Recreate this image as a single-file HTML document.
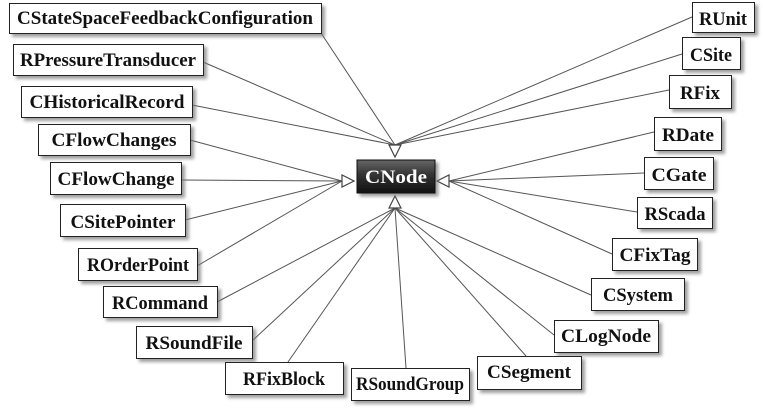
<!DOCTYPE html>
<html><head><style>
body{margin:0;width:763px;height:412px;background:#fff;overflow:hidden}
svg{position:absolute;left:0;top:0}
text{font-family:"Liberation Serif",serif;font-weight:bold;font-size:19px;fill:#111}
</style></head><body>
<svg width="763" height="412" viewBox="0 0 763 412">
<defs>
<filter id="sh" x="-10%" y="-20%" width="130%" height="160%"><feDropShadow dx="3" dy="3" stdDeviation="1.5" flood-color="#777" flood-opacity="0.7"/></filter>
<linearGradient id="g" x1="0" y1="0" x2="0" y2="1"><stop offset="0" stop-color="#666"/><stop offset="0.45" stop-color="#333"/><stop offset="1" stop-color="#111"/></linearGradient>
</defs>
<g stroke="#555" stroke-width="1" fill="none">
<line x1="321" y1="33" x2="395" y2="145"/>
<line x1="203" y1="62" x2="395" y2="145"/>
<line x1="192" y1="105" x2="395" y2="145"/>
<line x1="692" y1="17" x2="395" y2="145"/>
<line x1="682" y1="54" x2="395" y2="145"/>
<line x1="669" y1="90" x2="395" y2="145"/>
<line x1="190" y1="140" x2="342" y2="181"/>
<line x1="181" y1="180" x2="342" y2="181"/>
<line x1="185" y1="220" x2="342" y2="181"/>
<line x1="197" y1="266" x2="342" y2="181"/>
<line x1="654" y1="132" x2="449" y2="181"/>
<line x1="644" y1="173" x2="449" y2="181"/>
<line x1="637" y1="212" x2="449" y2="181"/>
<line x1="612" y1="254" x2="449" y2="181"/>
<line x1="217" y1="302" x2="395" y2="208"/>
<line x1="252" y1="341" x2="395" y2="208"/>
<line x1="288" y1="362" x2="395" y2="208"/>
<line x1="406" y1="368" x2="395" y2="208"/>
<line x1="526" y1="356" x2="395" y2="208"/>
<line x1="554" y1="335" x2="395" y2="208"/>
<line x1="591" y1="295" x2="395" y2="208"/>
</g>
<g stroke="#444" stroke-width="1.2" fill="#fff">
<polygon points="389,145 401,145 395,157"/>
<polygon points="342,175 342,187 354,181"/>
<polygon points="449,175 449,187 437,181"/>
<polygon points="389,208 401,208 395,196"/>
</g>
<g fill="#fff" stroke="#222" stroke-width="1" filter="url(#sh)">
<rect x="9.5" y="3.5" width="312" height="30"/>
<rect x="13.5" y="44.5" width="190" height="31"/>
<rect x="21.5" y="86.5" width="171" height="31"/>
<rect x="38.5" y="124.5" width="152" height="31"/>
<rect x="50.5" y="162.5" width="131" height="32"/>
<rect x="60.5" y="204.5" width="125" height="32"/>
<rect x="78.5" y="248.5" width="119" height="32"/>
<rect x="103.5" y="286.5" width="114" height="31"/>
<rect x="136.5" y="326.5" width="116" height="32"/>
<rect x="225.5" y="362.5" width="118" height="32"/>
<rect x="351.5" y="368.5" width="118" height="32"/>
<rect x="477.5" y="356.5" width="104" height="33"/>
<rect x="554.5" y="320.5" width="104" height="32"/>
<rect x="591.5" y="278.5" width="93" height="32"/>
<rect x="612.5" y="238.5" width="85" height="32"/>
<rect x="637.5" y="197.5" width="75" height="31"/>
<rect x="644.5" y="157.5" width="69" height="32"/>
<rect x="654.5" y="117.5" width="67" height="33"/>
<rect x="669.5" y="75.5" width="62" height="33"/>
<rect x="682.5" y="37.5" width="58" height="32"/>
<rect x="692.5" y="2.5" width="62" height="30"/>
<rect x="357" y="160" width="78" height="33" fill="url(#g)" stroke="#111"/>
</g>
<g text-anchor="middle" lengthAdjust="spacingAndGlyphs">
<text x="165" y="24" textLength="296" lengthAdjust="spacingAndGlyphs">CStateSpaceFeedbackConfiguration</text>
<text x="108" y="66" textLength="176" lengthAdjust="spacingAndGlyphs">RPressureTransducer</text>
<text x="107" y="108" textLength="155" lengthAdjust="spacingAndGlyphs">CHistoricalRecord</text>
<text x="114" y="146" textLength="125" lengthAdjust="spacingAndGlyphs">CFlowChanges</text>
<text x="116" y="185" textLength="117" lengthAdjust="spacingAndGlyphs">CFlowChange</text>
<text x="123" y="228" textLength="105" lengthAdjust="spacingAndGlyphs">CSitePointer</text>
<text x="138" y="271" textLength="102" lengthAdjust="spacingAndGlyphs">ROrderPoint</text>
<text x="160" y="309" textLength="96" lengthAdjust="spacingAndGlyphs">RCommand</text>
<text x="194" y="349" textLength="97" lengthAdjust="spacingAndGlyphs">RSoundFile</text>
<text x="284" y="385" textLength="82" lengthAdjust="spacingAndGlyphs">RFixBlock</text>
<text x="410" y="390" textLength="108" lengthAdjust="spacingAndGlyphs">RSoundGroup</text>
<text x="529" y="378" textLength="84" lengthAdjust="spacingAndGlyphs">CSegment</text>
<text x="606" y="342" textLength="90" lengthAdjust="spacingAndGlyphs">CLogNode</text>
<text x="638" y="301" textLength="70" lengthAdjust="spacingAndGlyphs">CSystem</text>
<text x="655" y="261" textLength="71" lengthAdjust="spacingAndGlyphs">CFixTag</text>
<text x="675" y="220" textLength="61" lengthAdjust="spacingAndGlyphs">RScada</text>
<text x="679" y="181" textLength="55" lengthAdjust="spacingAndGlyphs">CGate</text>
<text x="688" y="141" textLength="52" lengthAdjust="spacingAndGlyphs">RDate</text>
<text x="700" y="99" textLength="40" lengthAdjust="spacingAndGlyphs">RFix</text>
<text x="711" y="61" textLength="42" lengthAdjust="spacingAndGlyphs">CSite</text>
<text x="723" y="25" textLength="48" lengthAdjust="spacingAndGlyphs">RUnit</text>
<text x="396" y="183" textLength="62" lengthAdjust="spacingAndGlyphs" style="fill:#fff">CNode</text>
</g>
</svg>
</body></html>
